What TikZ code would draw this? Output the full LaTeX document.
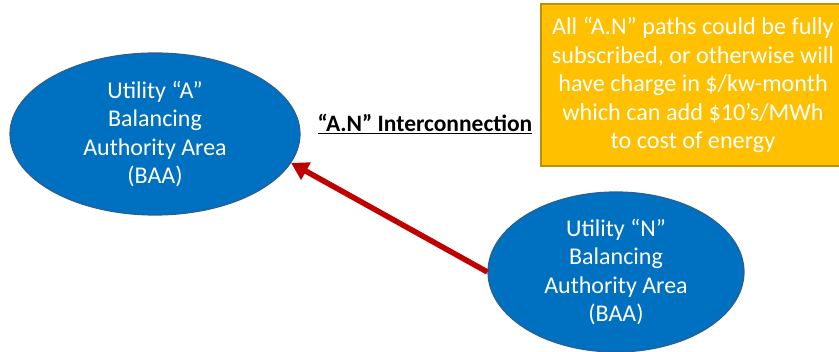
\documentclass[tikz,border=0pt]{standalone}
\usepackage{fontspec}
\setmainfont{Carlito}
\usetikzlibrary{arrows.meta,positioning,shapes.geometric}
\definecolor{baablue}{HTML}{0070C0}
\definecolor{baaedge}{HTML}{2A5F93}
\definecolor{tiered}{HTML}{C00000}
\definecolor{notegold}{HTML}{FFC000}
\definecolor{noteedge}{HTML}{BF9000}
\tikzset{baa/.style={ellipse,draw=baaedge,line width=1.2pt,fill=baablue,text=white,
  minimum width=#1,inner sep=0pt,align=center,font=\fontsize{24}{28.6}\selectfont}}

\begin{document}
\begin{tikzpicture}[x=1pt,y=-1pt]
\useasboundingbox (0,0) rectangle (839,352);
% \draw[help lines,step=50] (0,0) grid (839,352);
\node (bA) [baa=290pt,minimum height=162pt] at (155,134) {Utility “A”\\Balancing\\Authority Area\\(BAA)};
\node (bN) [baa=256pt,minimum height=160pt] at (616,272) {Utility “N”\\Balancing\\Authority Area\\(BAA)};
%
\node (note) [draw=noteedge,line width=1.6pt,fill=notegold,text=white,align=center,
  minimum width=304pt,minimum height=162pt,inner sep=0pt,
  font=\fontsize{24.2}{28.6}\selectfont] at (693,85)
  {All “A.N” paths could be fully\\subscribed, or otherwise will\\have charge in \$/kw-month\\which can add \$10’s/MWh\\to cost of energy};
\node (link) at (425,124) {\fontsize{23.5}{26}\selectfont\bfseries\underline{“A.N” Interconnection}};
%
\path[-{Triangle[length=17pt,width=19pt]},line width=5.5pt,tiered] (bN.west) edge (bA.-12.6);
\end{tikzpicture}
\end{document}
